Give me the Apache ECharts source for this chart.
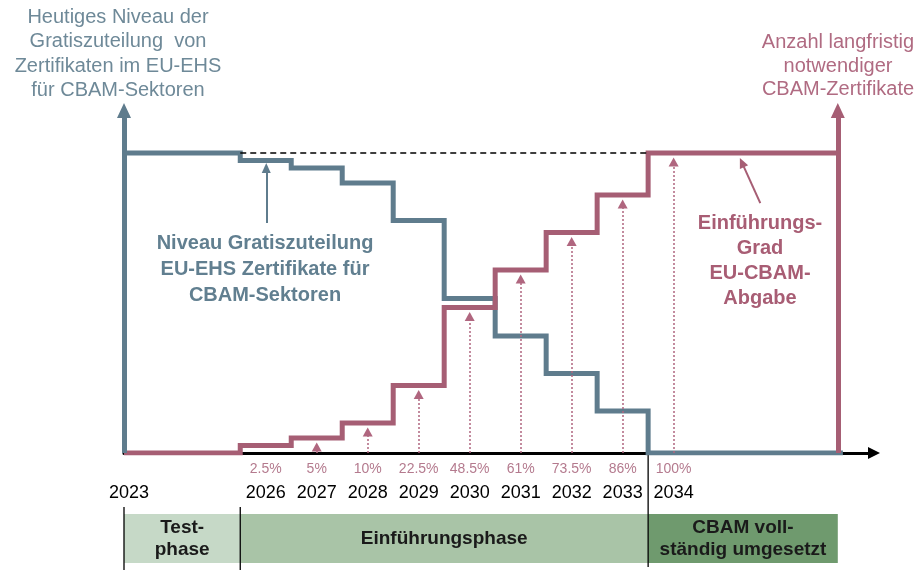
<!DOCTYPE html>
<html><head><meta charset="utf-8">
<script src="https://cdn.jsdelivr.net/npm/echarts@6/dist/echarts.min.js"></script>
<style>html,body{margin:0;padding:0;background:#fff}#c{width:918px;height:570px}</style>
</head><body><div id="c"></div>
<script>
// ---------- data ----------
const years = [2026, 2027, 2028, 2029, 2030, 2031, 2032, 2033, 2034];
const yearLabels = ['2026', '2027', '2028', '2029', '2030', '2031', '2032', '2033', '2034'];
const startYearLabel = '2023';
const cbamPct = [2.5, 5, 10, 22.5, 48.5, 61, 73.5, 86, 100];          // Einführungsgrad EU-CBAM-Abgabe
const freeAlloc = [97.5, 95, 90, 77.5, 51.5, 39, 26.5, 14, 0];         // Niveau Gratiszuteilung
const pctLabels = ['2.5%', '5%', '10%', '22.5%', '48.5%', '61%', '73.5%', '86%', '100%'];
const phaseNames = ['Test-\nphase', 'Einführungsphase', 'CBAM voll-\nständig umgesetzt'];

// ---------- layout of the (compressed) time axis ----------
const X0 = 2023.72;   // start of the drawn timeline (2023, test phase compressed)
const X1 = 2037.72;   // end of the drawn timeline
const XMAX = 2038.43; // arrow end of x axis
const phaseStart = [X0, 2026, 2034];
const phaseEnd = [2026, 2034, X1];

// ---------- styles ----------
const BLUE = '#5F7C8D', RED = '#A65E74';
const FONT = "'Liberation Sans', Arial, sans-serif";
const phaseColors = ['#C6D9C7', '#A9C4A7', '#6F9A6E'];

const labelPos = years.map(y => y + 0.5);
const yearTickVals = [X0 + 0.1].concat(labelPos);
const yearTickText = [startYearLabel].concat(yearLabels);
function lookup(vals, texts, v) {
  for (let i = 0; i < vals.length; i++) if (Math.abs(vals[i] - v) < 1e-6) return texts[i];
  return '';
}

const blueData = [[X0, 100]].concat(years.map((y, i) => [y, freeAlloc[i]])).concat([[X1 + 0.1, 0]]);
const redData = [[X0, 0]].concat(years.map((y, i) => [y, cbamPct[i]])).concat([[X1, 100]]);

const dottedArrows = [];
years.forEach((y, i) => {
  if (cbamPct[i] > 3) {
    dottedArrows.push([
      { coord: [labelPos[i], 0], symbol: 'none', lineStyle: { color: '#B0667F', width: 1.5, type: [2, 2] } },
      { coord: [labelPos[i], cbamPct[i] - 3], symbol: 'triangle', symbolSize: [10, 9] }
    ]);
  }
});

const chart = echarts.init(document.getElementById('c'), null, { renderer: 'canvas' });
chart.setOption({
  animation: false,
  backgroundColor: '#fff',
  grid: { left: 124, right: 44, top: 93, bottom: 117 },
  xAxis: [
    {
      type: 'value', min: X0, max: XMAX,
      axisLine: { show: true, lineStyle: { color: '#000', width: 3 }, symbol: ['none', 'triangle'], symbolSize: [12, 12] },
      axisTick: { show: false }, splitLine: { show: false },
      axisLabel: {
        customValues: yearTickVals,
        formatter: v => lookup(yearTickVals, yearTickText, v),
        margin: 31, color: '#000', fontSize: 18, fontFamily: FONT
      }
    },
    {
      type: 'value', min: X0, max: XMAX, position: 'bottom',
      axisLine: { show: false }, axisTick: { show: false }, splitLine: { show: false },
      axisLabel: {
        customValues: labelPos,
        formatter: v => lookup(labelPos, pctLabels, v),
        margin: 9, color: '#B47A8E', fontSize: 14, fontFamily: FONT
      }
    }
  ],
  yAxis: { type: 'value', min: 0, max: 120, show: false },
  series: [
    {
      type: 'line', name: 'Gratiszuteilung', step: 'end', data: blueData, z: 3,
      symbol: 'none', silent: true,
      lineStyle: { color: BLUE, width: 5, join: 'miter', cap: 'butt' },
      markLine: {
        silent: true, animation: false, label: { show: false }, symbol: ['none', 'triangle'],
        data: [
          [{ coord: [X0, 0], symbol: 'none', lineStyle: { color: BLUE, width: 5, type: 'solid' } },
           { coord: [X0, 114.2], symbol: 'triangle', symbolSize: [14, 15] }],
          [{ coord: [2026.51, 76.7], symbol: 'none', lineStyle: { color: BLUE, width: 2, type: 'solid' } },
           { coord: [2026.51, 95.0], symbol: 'triangle', symbolSize: [9, 10] }]
        ]
      }
    },
    {
      type: 'line', name: 'CBAM', step: 'end', data: redData, z: 4,
      symbol: 'none', silent: true,
      lineStyle: { color: RED, width: 5, join: 'miter', cap: 'butt' },
      markLine: {
        silent: true, animation: false, label: { show: false }, symbol: ['none', 'triangle'],
        data: [
          [{ coord: [X1, 0], symbol: 'none', lineStyle: { color: RED, width: 5, type: 'solid' } },
           { coord: [X1, 114.2], symbol: 'triangle', symbolSize: [14, 15] }],
          [{ coord: [2026, 100], symbol: 'none', lineStyle: { color: '#000', width: 1.5, type: [6, 4] } },
           { coord: [2034, 100], symbol: 'none' }],
          [{ coord: [2036.2, 83.3], symbol: 'none', lineStyle: { color: RED, width: 2, type: 'solid' } },
           { coord: [2035.84, 96.8], symbol: 'triangle', symbolSize: [9, 10] }]
        ].concat(dottedArrows)
      }
    },
    {
      type: 'custom', name: 'Phasen', clip: false, silent: true, z: 1,
      data: phaseNames.map((n, i) => [phaseStart[i], phaseEnd[i], i]),
      encode: { x: [0, 1] },
      renderItem: function (params, api) {
        const i = api.value(2);
        const a = api.coord([api.value(0), 0]);
        const xa = a[0], axisY = a[1];
        const xb = api.coord([api.value(1), 0])[0];
        const top = 514, h = 49;
        return {
          type: 'group',
          children: [
            { type: 'rect', shape: { x: xa, y: top, width: xb - xa, height: h }, style: { fill: phaseColors[i] } },
            { type: 'text', x: (xa + xb) / 2, y: top + h / 2,
              style: { text: phaseNames[i], align: 'center', verticalAlign: 'middle',
                       font: 'bold 19px ' + FONT, fill: '#1a1a1a', lineHeight: 22 } },
            { type: 'line', shape: { x1: xa, y1: i === 2 ? axisY : 507, x2: xa, y2: i === 2 ? 567 : 570 },
              style: { stroke: '#000', lineWidth: 1.3 } }
          ]
        };
      }
    }
  ],
  graphic: [
    { type: 'text', x: 118, y: 5, silent: true,
      style: { text: 'Heutiges Niveau der\nGratiszuteilung  von\nZertifikaten im EU-EHS\nfür CBAM-Sektoren',
               align: 'center', verticalAlign: 'top', font: '20px ' + FONT, fill: '#6E8998', lineHeight: 24.5 } },
    { type: 'text', x: 838, y: 31, silent: true,
      style: { text: 'Anzahl langfristig\nnotwendiger\nCBAM-Zertifikate',
               align: 'center', verticalAlign: 'top', font: '20px ' + FONT, fill: '#B06B82', lineHeight: 23.5 } },
    { type: 'text', x: 265, y: 230, silent: true,
      style: { text: 'Niveau Gratiszuteilung\nEU-EHS Zertifikate für\nCBAM-Sektoren',
               align: 'center', verticalAlign: 'top', font: 'bold 20px ' + FONT, fill: '#617F90', lineHeight: 26 } },
    { type: 'text', x: 760, y: 210.5, silent: true,
      style: { text: 'Einführungs-\nGrad\nEU-CBAM-\nAbgabe',
               align: 'center', verticalAlign: 'top', font: 'bold 20px ' + FONT, fill: '#A85D74', lineHeight: 25 } }
  ]
});
</script>
</body></html>
